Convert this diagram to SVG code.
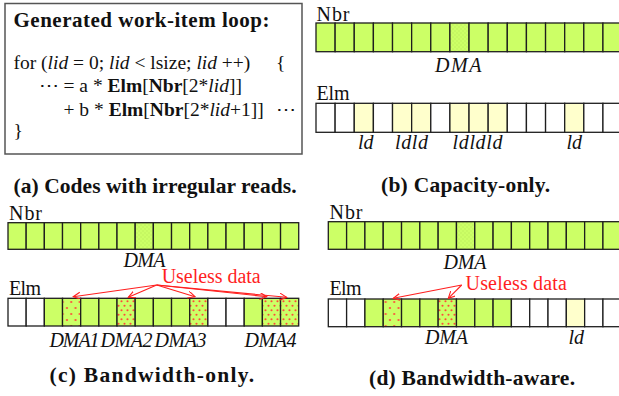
<svg xmlns="http://www.w3.org/2000/svg" width="619" height="396" viewBox="0 0 619 396">
  <style>
    text { font-family: "Liberation Serif", "Times New Roman", serif; fill: #111; }
    .lbl { font-size: 20px; }
    .it { font-style: italic; }
    .bd { font-weight: bold; }
    .code { font-size: 19.5px; }
    .cap { font-size: 21.5px; font-weight: bold; }
    .red { fill: #ff1f1f; font-size: 20px; }
    .c { stroke: #1e1e1e; stroke-width: 1.3; }
    .g { fill: #ccff66; }
    .w { fill: #ffffff; }
    .y { fill: #ffffcc; }
    .dsp { fill: url(#dotsSparse); }
    .dds { fill: url(#dotsDense); }
    .fnt { fill: url(#faint); }
    .arr { stroke: #ff1f1f; stroke-width: 1.1; fill: none; marker-end: url(#head); }
  </style>
  <defs>
    <pattern id="dotsSparse" patternUnits="userSpaceOnUse" width="8.5" height="12" x="1" y="299">
      <rect width="8.5" height="12" fill="#ccff66"/>
      <circle cx="2.2" cy="3" r="1.1" fill="#ff4a3a"/>
      <circle cx="6.5" cy="9" r="1.1" fill="#ff4a3a"/>
    </pattern>
    <pattern id="dotsDense" patternUnits="userSpaceOnUse" width="6" height="9" x="0" y="299">
      <rect width="6" height="9" fill="#ccff66"/>
      <circle cx="1.5" cy="2.2" r="1.05" fill="#ff4a3a"/>
      <circle cx="4.5" cy="6.7" r="1.05" fill="#ff4a3a"/>
    </pattern>
    <pattern id="faint" patternUnits="userSpaceOnUse" width="4" height="4">
      <rect width="4" height="4" fill="#ccff66"/>
      <circle cx="1" cy="1" r="0.8" fill="#bfef5c"/>
      <circle cx="3" cy="3" r="0.8" fill="#bfef5c"/>
    </pattern>
    <marker id="head" markerWidth="8" markerHeight="8" refX="7" refY="3.5" orient="auto" markerUnits="userSpaceOnUse">
      <path d="M0,0 L7,3.5 L0,7" fill="none" stroke="#ff1f1f" stroke-width="1.1"/>
    </marker>
  </defs>

  <!-- (a) code box -->
  <g id="code-box">
    <rect x="5" y="3.5" width="297" height="150.5" fill="#fff" stroke="#555" stroke-width="1.5"/>
    <text class="code bd" x="13.5" y="27" style="font-size:21px" textLength="256">Generated work-item loop:</text>
    <text class="code" x="13.5" y="68.5" xml:space="preserve">for (<tspan class="it">lid</tspan> = 0; <tspan class="it">lid</tspan> &lt; lsize; <tspan class="it">lid</tspan> ++)</text>
    <text class="code" x="276" y="68.5">{</text>
    <text class="code" x="39" y="92">⋯</text>
    <text class="code" x="63.5" y="92" xml:space="preserve">= a * <tspan class="bd">Elm</tspan>[<tspan class="bd">Nbr</tspan>[2*<tspan class="it">lid</tspan>]]</text>
    <text class="code" x="63.5" y="115.5" xml:space="preserve">+ b * <tspan class="bd">Elm</tspan>[<tspan class="bd">Nbr</tspan>[2*<tspan class="it">lid</tspan>+1]]</text>
    <text class="code" x="276" y="115.5">⋯</text>
    <text class="code" x="13.5" y="137">}</text>
  </g>
  <text id="cap-a" class="cap" x="13.5" y="193" textLength="283">(a) Codes with irregular reads.</text>

  <!-- (b) capacity-only -->
  <g id="b-nbr">
    <text class="lbl" x="316.5" y="20.5" textLength="33">Nbr</text>
    <g class="c">
      <rect class="g" x="316" y="23" width="19.13" height="28.7"/>
      <rect class="g" x="335.13" y="23" width="19.13" height="28.7"/>
      <rect class="g" x="354.26" y="23" width="19.13" height="28.7"/>
      <rect class="g" x="373.39" y="23" width="19.13" height="28.7"/>
      <rect class="g" x="392.52" y="23" width="19.13" height="28.7"/>
      <rect class="g" x="411.65" y="23" width="19.13" height="28.7"/>
      <rect class="g" x="430.78" y="23" width="19.13" height="28.7"/>
      <rect class="fnt" x="449.91" y="23" width="19.13" height="28.7"/>
      <rect class="g" x="469.04" y="23" width="19.13" height="28.7"/>
      <rect class="g" x="488.17" y="23" width="19.13" height="28.7"/>
      <rect class="g" x="507.3" y="23" width="19.13" height="28.7"/>
      <rect class="g" x="526.43" y="23" width="19.13" height="28.7"/>
      <rect class="g" x="545.56" y="23" width="19.13" height="28.7"/>
      <rect class="g" x="564.69" y="23" width="19.13" height="28.7"/>
      <rect class="g" x="583.82" y="23" width="19.13" height="28.7"/>
      <rect class="g" x="602.95" y="23" width="19.13" height="28.7"/>
    </g>
    <text class="lbl it" x="435" y="72" textLength="46.5">DMA</text>
  </g>
  <g id="b-elm">
    <text class="lbl" x="316.5" y="100" textLength="33">Elm</text>
    <g class="c">
      <rect class="w" x="316" y="103.3" width="19.13" height="29"/>
      <rect class="w" x="335.13" y="103.3" width="19.13" height="29"/>
      <rect class="y" x="354.26" y="103.3" width="19.13" height="29"/>
      <rect class="w" x="373.39" y="103.3" width="19.13" height="29"/>
      <rect class="y" x="392.52" y="103.3" width="19.13" height="29"/>
      <rect class="y" x="411.65" y="103.3" width="19.13" height="29"/>
      <rect class="w" x="430.78" y="103.3" width="19.13" height="29"/>
      <rect class="y" x="449.91" y="103.3" width="19.13" height="29"/>
      <rect class="y" x="469.04" y="103.3" width="19.13" height="29"/>
      <rect class="y" x="488.17" y="103.3" width="19.13" height="29"/>
      <rect class="w" x="507.3" y="103.3" width="19.13" height="29"/>
      <rect class="w" x="526.43" y="103.3" width="19.13" height="29"/>
      <rect class="w" x="545.56" y="103.3" width="19.13" height="29"/>
      <rect class="y" x="564.69" y="103.3" width="19.13" height="29"/>
      <rect class="w" x="583.82" y="103.3" width="19.13" height="29"/>
      <rect class="w" x="602.95" y="103.3" width="19.13" height="29"/>
    </g>
    <text class="lbl it" x="358" y="148.5">ld</text>
    <text class="lbl it" x="395" y="148.5" textLength="33">ldld</text>
    <text class="lbl it" x="452.5" y="148.5" textLength="50">ldldld</text>
    <text class="lbl it" x="566.5" y="148.5">ld</text>
  </g>
  <text id="cap-b" class="cap" x="381" y="192" textLength="169">(b) Capacity-only.</text>

  <!-- (c) bandwidth-only -->
  <g id="c-nbr">
    <text class="lbl" x="9" y="219.5" textLength="33">Nbr</text>
    <g class="c">
      <rect class="g" x="8" y="222.7" width="18.17" height="26.6"/>
      <rect class="g" x="26.17" y="222.7" width="18.17" height="26.6"/>
      <rect class="g" x="44.34" y="222.7" width="18.17" height="26.6"/>
      <rect class="g" x="62.51" y="222.7" width="18.17" height="26.6"/>
      <rect class="g" x="80.68" y="222.7" width="18.17" height="26.6"/>
      <rect class="g" x="98.85" y="222.7" width="18.17" height="26.6"/>
      <rect class="g" x="117.02" y="222.7" width="18.17" height="26.6"/>
      <rect class="fnt" x="135.19" y="222.7" width="18.17" height="26.6"/>
      <rect class="g" x="153.36" y="222.7" width="18.17" height="26.6"/>
      <rect class="g" x="171.53" y="222.7" width="18.17" height="26.6"/>
      <rect class="g" x="189.7" y="222.7" width="18.17" height="26.6"/>
      <rect class="g" x="207.87" y="222.7" width="18.17" height="26.6"/>
      <rect class="g" x="226.04" y="222.7" width="18.17" height="26.6"/>
      <rect class="g" x="244.21" y="222.7" width="18.17" height="26.6"/>
      <rect class="g" x="262.38" y="222.7" width="18.17" height="26.6"/>
      <rect class="g" x="280.55" y="222.7" width="18.17" height="26.6"/>
    </g>
    <text class="lbl it" x="123.5" y="267" textLength="42">DMA</text>
  </g>
  <g id="c-elm">
    <text class="lbl" x="9" y="295" textLength="32">Elm</text>
    <g class="c">
      <rect class="w" x="8" y="298.3" width="18.17" height="27.7"/>
      <rect class="w" x="26.17" y="298.3" width="18.17" height="27.7"/>
      <rect class="g" x="44.34" y="298.3" width="18.17" height="27.7"/>
      <rect class="dsp" x="62.51" y="298.3" width="18.17" height="27.7"/>
      <rect class="g" x="80.68" y="298.3" width="18.17" height="27.7"/>
      <rect class="g" x="98.85" y="298.3" width="18.17" height="27.7"/>
      <rect class="dds" x="117.02" y="298.3" width="18.17" height="27.7"/>
      <rect class="g" x="135.19" y="298.3" width="18.17" height="27.7"/>
      <rect class="g" x="153.36" y="298.3" width="18.17" height="27.7"/>
      <rect class="g" x="171.53" y="298.3" width="18.17" height="27.7"/>
      <rect class="dds" x="189.7" y="298.3" width="18.17" height="27.7"/>
      <rect class="w" x="207.87" y="298.3" width="18.17" height="27.7"/>
      <rect class="w" x="226.04" y="298.3" width="18.17" height="27.7"/>
      <rect class="g" x="244.21" y="298.3" width="18.17" height="27.7"/>
      <rect class="dds" x="262.38" y="298.3" width="18.17" height="27.7"/>
      <rect class="dds" x="280.55" y="298.3" width="18.17" height="27.7"/>
    </g>
    <text class="lbl it" x="49.5" y="346.5" textLength="50">DMA1</text>
    <text class="lbl it" x="100.5" y="346.5" textLength="52">DMA2</text>
    <text class="lbl it" x="154.5" y="346.5" textLength="52">DMA3</text>
    <text class="lbl it" x="244.5" y="346.5" textLength="52">DMA4</text>
  </g>
  <text id="c-useless" class="red" x="161.7" y="283.3" textLength="99">Useless data</text>
  <text id="cap-c" class="cap" x="49.5" y="382" textLength="204.5">(c) Bandwidth-only.</text>

  <!-- (d) bandwidth-aware -->
  <g id="d-nbr">
    <text class="lbl" x="329.5" y="218.5" textLength="33">Nbr</text>
    <g class="c">
      <rect class="g" x="328.3" y="221.7" width="18.31" height="27.6"/>
      <rect class="g" x="346.61" y="221.7" width="18.31" height="27.6"/>
      <rect class="g" x="364.92" y="221.7" width="18.31" height="27.6"/>
      <rect class="g" x="383.23" y="221.7" width="18.31" height="27.6"/>
      <rect class="g" x="401.54" y="221.7" width="18.31" height="27.6"/>
      <rect class="g" x="419.85" y="221.7" width="18.31" height="27.6"/>
      <rect class="g" x="438.16" y="221.7" width="18.31" height="27.6"/>
      <rect class="fnt" x="456.47" y="221.7" width="18.31" height="27.6"/>
      <rect class="g" x="474.78" y="221.7" width="18.31" height="27.6"/>
      <rect class="g" x="493.09" y="221.7" width="18.31" height="27.6"/>
      <rect class="g" x="511.4" y="221.7" width="18.31" height="27.6"/>
      <rect class="g" x="529.71" y="221.7" width="18.31" height="27.6"/>
      <rect class="g" x="548.02" y="221.7" width="18.31" height="27.6"/>
      <rect class="g" x="566.33" y="221.7" width="18.31" height="27.6"/>
      <rect class="g" x="584.64" y="221.7" width="18.31" height="27.6"/>
      <rect class="g" x="602.95" y="221.7" width="18.31" height="27.6"/>
    </g>
    <text class="lbl it" x="443.5" y="268.5" textLength="43">DMA</text>
  </g>
  <g id="d-elm">
    <text class="lbl" x="329.5" y="295" textLength="32">Elm</text>
    <g class="c">
      <rect class="w" x="328.3" y="299" width="18.31" height="27.7"/>
      <rect class="w" x="346.61" y="299" width="18.31" height="27.7"/>
      <rect class="g" x="364.92" y="299" width="18.31" height="27.7"/>
      <rect class="dsp" x="383.23" y="299" width="18.31" height="27.7"/>
      <rect class="g" x="401.54" y="299" width="18.31" height="27.7"/>
      <rect class="g" x="419.85" y="299" width="18.31" height="27.7"/>
      <rect class="dds" x="438.16" y="299" width="18.31" height="27.7"/>
      <rect class="g" x="456.47" y="299" width="18.31" height="27.7"/>
      <rect class="g" x="474.78" y="299" width="18.31" height="27.7"/>
      <rect class="g" x="493.09" y="299" width="18.31" height="27.7"/>
      <rect class="w" x="511.4" y="299" width="18.31" height="27.7"/>
      <rect class="w" x="529.71" y="299" width="18.31" height="27.7"/>
      <rect class="w" x="548.02" y="299" width="18.31" height="27.7"/>
      <rect class="y" x="566.33" y="299" width="18.31" height="27.7"/>
      <rect class="w" x="584.64" y="299" width="18.31" height="27.7"/>
      <rect class="w" x="602.95" y="299" width="18.31" height="27.7"/>
    </g>
    <text class="lbl it" x="425" y="343.5" textLength="43">DMA</text>
    <text class="lbl it" x="568.5" y="343.5">ld</text>
  </g>
  <text id="d-useless" class="red" x="465.5" y="290" textLength="101.5">Useless data</text>
  <text id="cap-d" class="cap" x="369" y="385" textLength="206">(d) Bandwidth-aware.</text>

  <!-- pointers from the "Useless data" notes to the wasted cells -->
  <g id="connectors">
    <line class="arr" x1="156.7" y1="285" x2="73.3" y2="296.7"/>
    <line class="arr" x1="156.7" y1="285" x2="128.3" y2="297.3"/>
    <line class="arr" x1="156.7" y1="285" x2="195" y2="296.7"/>
    <line class="arr" x1="156.7" y1="285" x2="266.7" y2="296.7"/>
    <line class="arr" x1="156.7" y1="285" x2="286.7" y2="297.3"/>
    <line class="arr" x1="461.7" y1="285" x2="393.3" y2="298.3"/>
    <line class="arr" x1="461.7" y1="285" x2="448.3" y2="298.3"/>
  </g>
</svg>
